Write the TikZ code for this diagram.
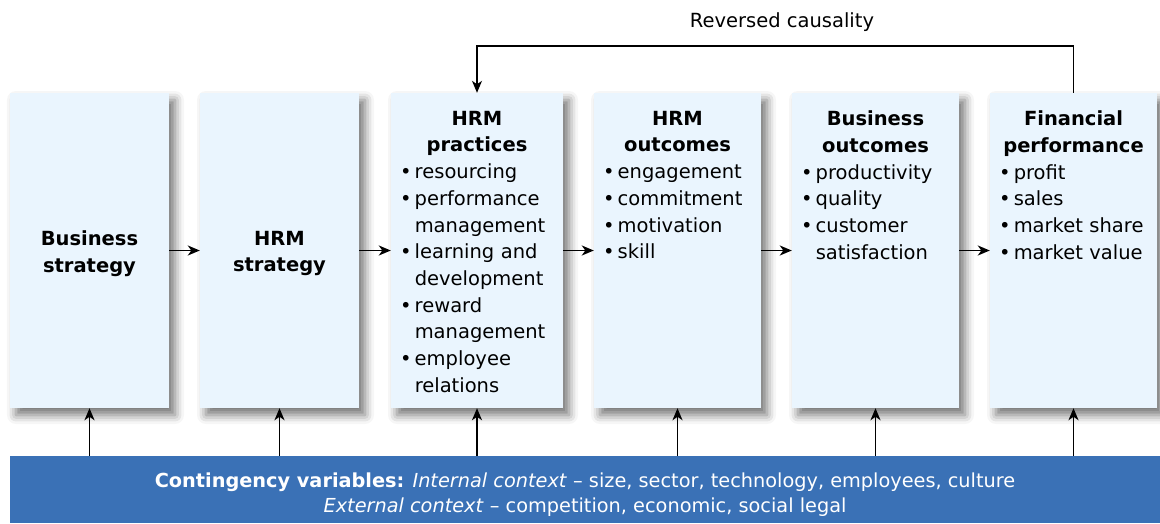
\documentclass[tikz,border=0pt]{standalone}
\usepackage{fontspec}
\setmainfont{DejaVu Sans}
\usetikzlibrary{positioning,arrows.meta,shadows.blur}

\definecolor{boxFill}{HTML}{EAF5FE}
\definecolor{barBlue}{HTML}{3A71B6}

\tikzset{
  stageBox/.style={fill=boxFill, inner sep=0pt, minimum height=315pt,
    blur shadow={shadow xshift=6pt, shadow yshift=-7pt, shadow blur radius=9pt, shadow opacity=55}},
  stageText/.style={anchor=north, inner sep=0pt, align=left,
    font=\fontsize{19.5}{26.7}\selectfont},
  stageTitle/.style={inner sep=0pt, align=center,
    font=\fontsize{19.5}{26.7}\selectfont\bfseries},
  flowArrow/.style={-{Stealth[length=12pt,width=10pt,inset=3.5pt]}, line width=1.8pt},
}

\newcommand{\bul}{\textbullet\,}
\newcommand{\ind}{\hphantom{\textbullet\,}}

\begin{document}
\begin{tikzpicture}[x=1pt,y=-1pt]
  \useasboundingbox (0,0) rectangle (1160,523);

  % the six stages
  \foreach \name/\cx/\w in {b1/89.5/159, b2/279.5/159, b3/477/172,
                            b4/677.5/167, b5/875.5/167, b6/1073.5/167} {
    \node[stageBox, minimum width=\w pt] (\name) at (\cx,250.5) {};
  }

  % texts of the stages
  \node[stageTitle, yshift=-3pt] (t1) at (b1.center) {Business\\strategy};
  \node[stageTitle, yshift=-3pt] (t2) at (b2.center) {HRM\\strategy};
  \node[stageText, text width=154pt, below=18pt of b3.north] (t3) {%
    {\centering\bfseries HRM\\practices\par}
    \bul resourcing\\
    \bul performance\\
    \ind management\\
    \bul learning and\\
    \ind development\\
    \bul reward\\
    \ind management\\
    \bul employee\\
    \ind relations};
  \node[stageText, text width=149pt, below=18pt of b4.north] (t4) {%
    {\centering\bfseries HRM\\outcomes\par}
    \bul engagement\\
    \bul commitment\\
    \bul motivation\\
    \bul skill};
  \node[stageText, text width=149pt, below=18pt of b5.north] (t5) {%
    {\centering\bfseries Business\\outcomes\par}
    \bul productivity\\
    \bul quality\\
    \bul customer\\
    \ind satisfaction};
  \node[stageText, text width=149pt, below=18pt of b6.north] (t6) {%
    {\centering\bfseries Financial\\performance\par}
    \bul profit\\
    \bul sales\\
    \bul market share\\
    \bul market value};

  % contingency bar
  \node[fill=barBlue, inner sep=0pt, minimum width=1150pt, minimum height=67pt] (ctx) at (585,489.5) {};
  \node[text=white, inner sep=0pt, align=center, font=\fontsize{19.3}{25}\selectfont,
        yshift=-5pt] (ctxText) at (ctx.center)
    {\textbf{Contingency variables:} \textit{Internal context} -- size, sector, technology, employees, culture\\
     \textit{External context} -- competition, economic, social legal};

  % arrows between the stages
  \foreach \a/\b in {b1/b2, b2/b3, b3/b4, b4/b5, b5/b6}
    \draw[flowArrow] (\a.east) -- (\b.west);

  % arrows from the context
  \foreach \b in {b1,b2,b3,b4,b5,b6}
    \draw[flowArrow] (ctx.north -| \b.south) -- (\b.south);

  % reversed causality loop
  \coordinate (loopTop) at (782,46);
  \node[font=\fontsize{19.5}{24}\selectfont] (revLabel) at (782,22) {Reversed causality};
  \draw[flowArrow, line width=1.3pt] (b6.north) |- (loopTop) -| (b3.north);
\end{tikzpicture}
\end{document}
